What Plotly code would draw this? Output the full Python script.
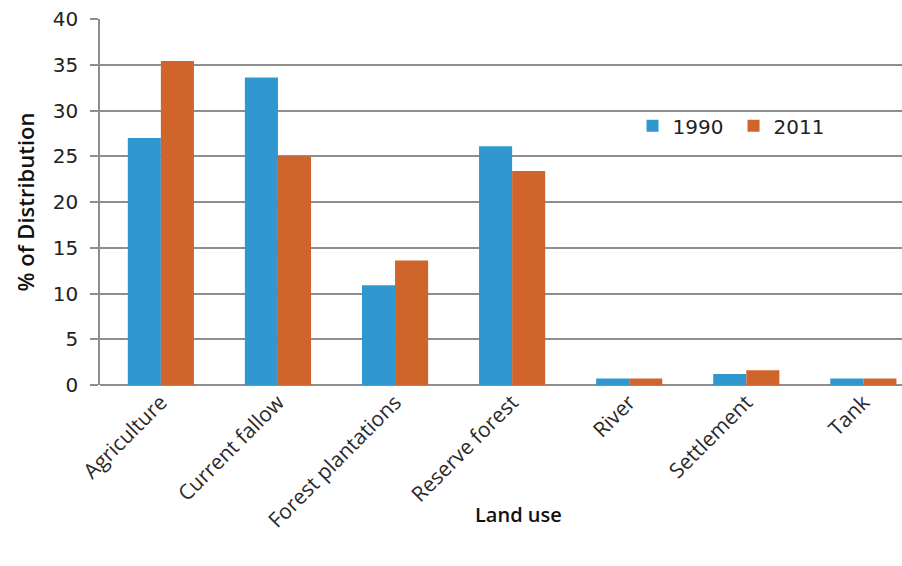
import plotly.graph_objects as go

categories = ["Agriculture", "Current fallow", "Forest plantations", "Reserve forest", "River", "Settlement", "Tank"]
values_1990 = [27.0, 33.6, 10.9, 26.1, 0.7, 1.2, 0.7]
values_2011 = [35.4, 25.0, 13.6, 23.4, 0.7, 1.6, 0.7]
y_ticks = [0, 5, 10, 15, 20, 25, 30, 35, 40]

BLUE = "#3097CF"
ORANGE = "#D0652C"
GRID = "#8E8E8E"
FONT = "Open Sans"

fig = go.Figure()
fig.add_trace(go.Bar(name="1990", x=categories, y=values_1990, marker=dict(color=BLUE, line=dict(width=0))))
fig.add_trace(go.Bar(name="2011", x=categories, y=values_2011, marker=dict(color=ORANGE, line=dict(width=0))))

fig.update_layout(
    width=902, height=566,
    margin=dict(l=100, r=0, t=19, b=181, autoexpand=False),
    plot_bgcolor="white", paper_bgcolor="white",
    barmode="group", bargap=0.435, bargroupgap=0,
    font=dict(family=FONT, size=16, color="#222222"),
    showlegend=True,
    legend=dict(orientation="h", x=0.664, y=0.708, xanchor="left", yanchor="middle",
                bgcolor="rgba(0,0,0,0)", font=dict(size=20, family="DejaVu Sans", color="#222222"),
                itemwidth=30, tracegroupgap=0, entrywidthmode="pixels", entrywidth=56),
    xaxis=dict(range=[-0.52, 6.33], tickangle=-45, showgrid=False, showline=False,
               ticks="", tickfont=dict(size=21, family=FONT, color="#2a2a2a"),
               fixedrange=True),
    yaxis=dict(range=[0, 40], tickvals=y_ticks, showgrid=True, gridcolor=GRID, gridwidth=1.5,
               zeroline=True, zerolinecolor=GRID, zerolinewidth=2,
               showline=True, linecolor=GRID, linewidth=1.5,
               ticks="outside", ticklen=8, tickcolor=GRID, tickwidth=1.5,
               ticklabelstandoff=8,
               tickfont=dict(size=20, family="DejaVu Sans", color="#222222"),
               title=dict(text="% of Distribution", font=dict(size=22, family=FONT, color="#111111", weight=600), standoff=12)),
)

fig.add_annotation(text="Land use", xref="paper", yref="paper", x=0.522, y=-0.355,
                   showarrow=False, font=dict(size=20, family=FONT, color="#111111", weight=600),
                   xanchor="center", yanchor="middle")

fig.write_html("out.html")
